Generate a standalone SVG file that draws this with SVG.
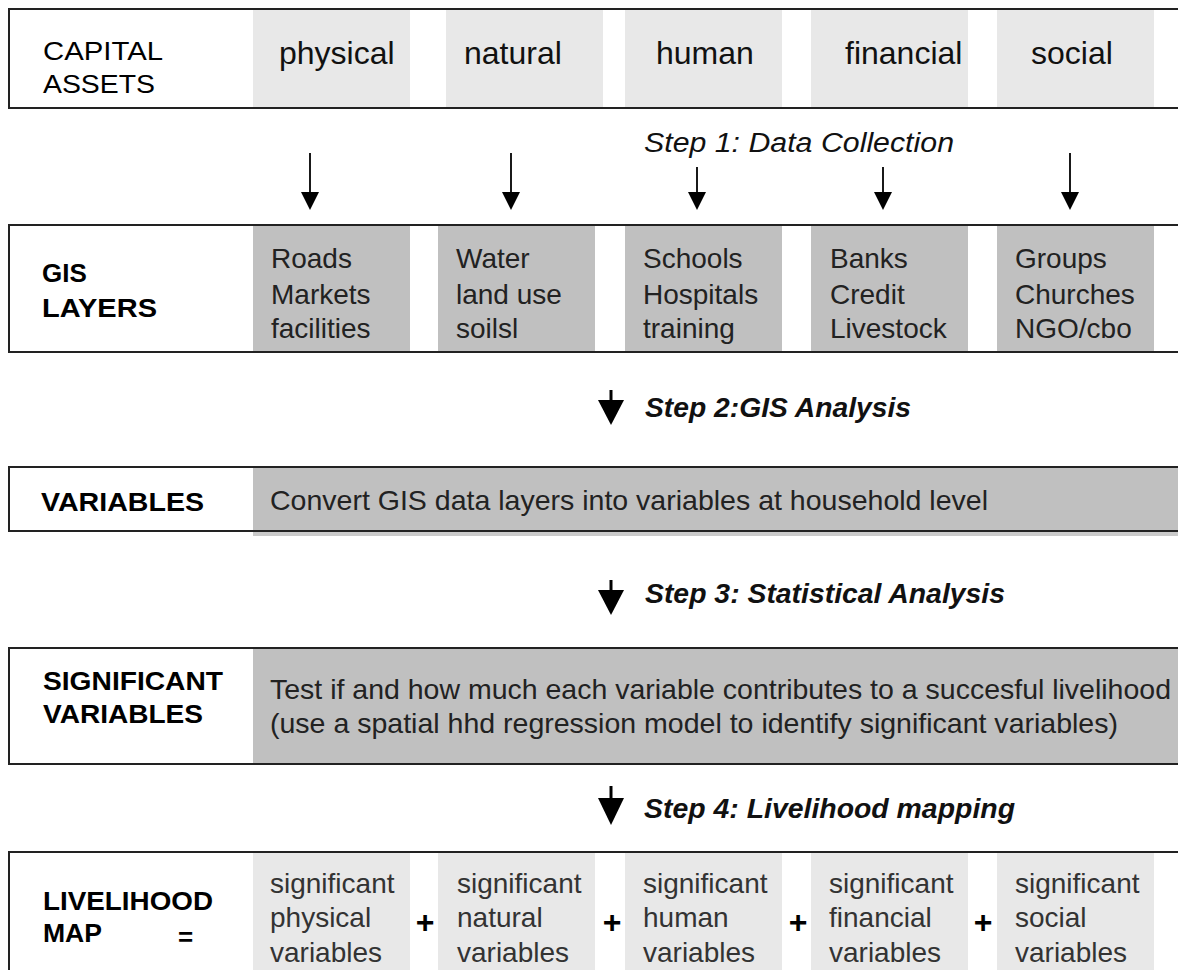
<svg xmlns="http://www.w3.org/2000/svg" width="1178" height="970" viewBox="0 0 1178 970">
<style>
  .box{fill:none;stroke:#222;stroke-width:2}
  .lg{fill:#e8e8e8}
  .dg{fill:#c0c0c0}
  .lbl{font-family:"Liberation Sans",Arial,sans-serif;font-size:26px;font-weight:bold;fill:#000}
  .lblr{font-family:"Liberation Sans",Arial,sans-serif;font-size:26px;font-weight:normal;fill:#000}
  .ttl{font-family:"Liberation Sans",Arial,sans-serif;font-size:32px;fill:#111}
  .cell{font-family:"Liberation Sans",Arial,sans-serif;font-size:28px;fill:#222}
  .cell2{font-family:"Liberation Sans",Arial,sans-serif;font-size:28px;fill:#333}
  .step1{font-family:"Liberation Sans",Arial,sans-serif;font-size:27px;font-style:italic;fill:#111}
  .step{font-family:"Liberation Sans",Arial,sans-serif;font-size:27px;font-style:italic;font-weight:bold;fill:#111}
  .plus{font-family:"Liberation Sans",Arial,sans-serif;font-size:32px;font-weight:bold;fill:#000}
  .thin{stroke:#000;stroke-width:1.8;fill:none}
  .thick{stroke:#000;stroke-width:3;fill:none}
  .head{fill:#000}
</style>

<g id="capital-assets">
  <rect class="lg" x="253" y="10" width="157" height="97"/>
  <rect class="lg" x="446" y="10" width="157" height="97"/>
  <rect class="lg" x="625" y="10" width="157" height="97"/>
  <rect class="lg" x="811" y="10" width="157" height="97"/>
  <rect class="lg" x="997" y="10" width="157" height="97"/>
  <rect class="box" x="9" y="9" width="1190" height="99"/>
  <text class="lblr" x="43" y="60" textLength="120" lengthAdjust="spacingAndGlyphs">CAPITAL</text>
  <text class="lblr" x="43" y="93" textLength="112" lengthAdjust="spacingAndGlyphs">ASSETS</text>
  <text class="ttl" x="279" y="64">physical</text>
  <text class="ttl" x="464" y="64">natural</text>
  <text class="ttl" x="656" y="64">human</text>
  <text class="ttl" x="845" y="64">financial</text>
  <text class="ttl" x="1031" y="64">social</text>
</g>

<g id="step1-label">
  <text class="step1" x="644" y="152" textLength="310" lengthAdjust="spacingAndGlyphs">Step 1: Data Collection</text>
</g>

<g id="gis-layers">
  <rect class="dg" x="253" y="226" width="157" height="125"/>
  <rect class="dg" x="438" y="226" width="157" height="125"/>
  <rect class="dg" x="625" y="226" width="157" height="125"/>
  <rect class="dg" x="811" y="226" width="157" height="125"/>
  <rect class="dg" x="997" y="226" width="157" height="125"/>
  <rect class="box" x="9" y="225" width="1190" height="127"/>
  <text class="lbl" x="42" y="282">GIS</text>
  <text class="lbl" x="42" y="317" textLength="115" lengthAdjust="spacingAndGlyphs">LAYERS</text>
  <text class="cell" x="271" y="268">Roads</text>
  <text class="cell" x="271" y="304">Markets</text>
  <text class="cell" x="271" y="338">facilities</text>
  <text class="cell" x="456" y="268">Water</text>
  <text class="cell" x="456" y="304">land use</text>
  <text class="cell" x="456" y="338">soilsl</text>
  <text class="cell" x="643" y="268">Schools</text>
  <text class="cell" x="643" y="304">Hospitals</text>
  <text class="cell" x="643" y="338">training</text>
  <text class="cell" x="830" y="268">Banks</text>
  <text class="cell" x="830" y="304">Credit</text>
  <text class="cell" x="830" y="338">Livestock</text>
  <text class="cell" x="1015" y="268">Groups</text>
  <text class="cell" x="1015" y="304">Churches</text>
  <text class="cell" x="1015" y="338">NGO/cbo</text>
</g>

<g id="step2-label">
  <text class="step" x="645" y="417" textLength="266" lengthAdjust="spacingAndGlyphs">Step 2:GIS Analysis</text>
</g>

<g id="variables">
  <rect x="253" y="467" width="930" height="69" fill="#cacaca"/>
  <rect class="dg" x="253" y="467" width="930" height="64"/>
  <rect class="box" x="9" y="467" width="1190" height="64"/>
  <text class="lbl" x="41" y="511" textLength="163" lengthAdjust="spacingAndGlyphs">VARIABLES</text>
  <text class="cell" x="270" y="510" textLength="718" lengthAdjust="spacingAndGlyphs">Convert GIS data layers into variables at household level</text>
</g>

<g id="step3-label">
  <text class="step" x="645" y="603" textLength="360" lengthAdjust="spacingAndGlyphs">Step 3: Statistical Analysis</text>
</g>

<g id="significant-variables">
  <rect class="dg" x="253" y="648" width="930" height="116"/>
  <rect class="box" x="9" y="648" width="1190" height="116"/>
  <text class="lbl" x="43" y="690" textLength="180" lengthAdjust="spacingAndGlyphs">SIGNIFICANT</text>
  <text class="lbl" x="43" y="723" textLength="160" lengthAdjust="spacingAndGlyphs">VARIABLES</text>
  <text class="cell" x="270" y="699" textLength="901" lengthAdjust="spacingAndGlyphs">Test if and how much each variable contributes to a succesful livelihood</text>
  <text class="cell" x="270" y="733" textLength="848" lengthAdjust="spacingAndGlyphs">(use a spatial hhd regression model to identify significant variables)</text>
</g>

<g id="step4-label">
  <text class="step" x="644" y="818" textLength="371" lengthAdjust="spacingAndGlyphs">Step 4: Livelihood mapping</text>
</g>

<g id="livelihood-map">
  <rect class="lg" x="253" y="853" width="157" height="130"/>
  <rect class="lg" x="438" y="853" width="157" height="130"/>
  <rect class="lg" x="625" y="853" width="157" height="130"/>
  <rect class="lg" x="811" y="853" width="157" height="130"/>
  <rect class="lg" x="997" y="853" width="157" height="130"/>
  <rect class="box" x="9" y="852" width="1190" height="160"/>
  <text class="lbl" x="43" y="910" textLength="170" lengthAdjust="spacingAndGlyphs">LIVELIHOOD</text>
  <text class="lbl" x="43" y="942" textLength="59" lengthAdjust="spacingAndGlyphs">MAP</text>
  <text class="lbl" x="178" y="946">=</text>
  <text class="cell2" x="270" y="893">significant</text>
  <text class="cell2" x="270" y="927">physical</text>
  <text class="cell2" x="270" y="962">variables</text>
  <text class="cell2" x="457" y="893">significant</text>
  <text class="cell2" x="457" y="927">natural</text>
  <text class="cell2" x="457" y="962">variables</text>
  <text class="cell2" x="643" y="893">significant</text>
  <text class="cell2" x="643" y="927">human</text>
  <text class="cell2" x="643" y="962">variables</text>
  <text class="cell2" x="829" y="893">significant</text>
  <text class="cell2" x="829" y="927">financial</text>
  <text class="cell2" x="829" y="962">variables</text>
  <text class="cell2" x="1015" y="893">significant</text>
  <text class="cell2" x="1015" y="927">social</text>
  <text class="cell2" x="1015" y="962">variables</text>
  <text class="plus" x="425" y="933" text-anchor="middle">+</text>
  <text class="plus" x="612" y="933" text-anchor="middle">+</text>
  <text class="plus" x="798" y="933" text-anchor="middle">+</text>
  <text class="plus" x="983" y="933" text-anchor="middle">+</text>
</g>

<g id="connectors">
  <line class="thin" x1="310" y1="153" x2="310" y2="194"/>
  <polygon class="head" points="301,192 319,192 310,210"/>
  <line class="thin" x1="511" y1="153" x2="511" y2="194"/>
  <polygon class="head" points="502,192 520,192 511,210"/>
  <line class="thin" x1="697" y1="167" x2="697" y2="194"/>
  <polygon class="head" points="688,192 706,192 697,210"/>
  <line class="thin" x1="883" y1="167" x2="883" y2="194"/>
  <polygon class="head" points="874,192 892,192 883,210"/>
  <line class="thin" x1="1070" y1="153" x2="1070" y2="194"/>
  <polygon class="head" points="1061,192 1079,192 1070,210"/>
  <line class="thick" x1="611" y1="390" x2="611" y2="402"/>
  <polygon class="head" points="598,400 624,400 611,425"/>
  <line class="thick" x1="611" y1="580" x2="611" y2="592"/>
  <polygon class="head" points="598,590 624,590 611,615"/>
  <line class="thick" x1="611" y1="786" x2="611" y2="800"/>
  <polygon class="head" points="598,798 624,798 611,825"/>
</g>
</svg>
